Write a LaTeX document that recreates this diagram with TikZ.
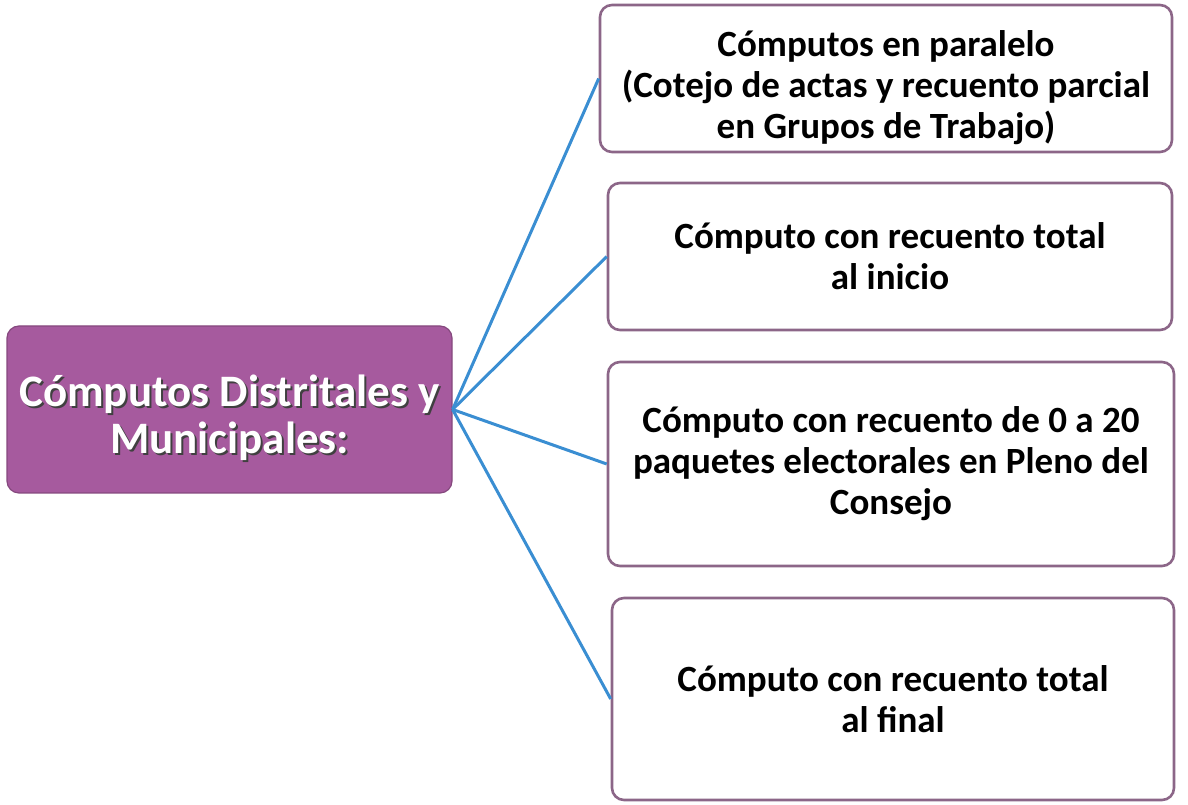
\documentclass[tikz,border=0pt]{standalone}
\usepackage{fontspec}
\setmainfont{Carlito}
\usepackage[dvipsnames]{xcolor}
\definecolor{boxpurple}{HTML}{A65A9E}
\definecolor{boxedge}{HTML}{8C6688}
\definecolor{linkblue}{HTML}{3A8ED2}

\begin{document}
\begin{tikzpicture}[x=1pt,y=1pt,-,thick,
    main node/.style={rounded corners=12pt,draw=boxpurple!80!black,fill=boxpurple,line width=1.2pt,text=white,align=center,font=\fontsize{45}{47}\selectfont\bfseries,minimum width=445pt,minimum height=167pt,inner sep=0pt},
    shadow node/.style={align=center,font=\fontsize{45}{47}\selectfont\bfseries,text=black!75,inner sep=0pt},
    item node/.style={rounded corners=12pt,draw=boxedge,fill=white,line width=2.6pt,text=black,align=center,font=\fontsize{37}{41}\selectfont\bfseries,inner sep=0pt}]
            \useasboundingbox (0,0) rectangle (1188,805);
            \node[main node] (0) at (229.5,395.5) {};
            \node[shadow node] (0s) at (231.5,385.5) {Cómputos Distritales y\\Municipales:};
            \node[shadow node,text=white] (0t) at (229.5,387.5) {Cómputos Distritales y\\Municipales:};
            \node[item node,minimum width=572pt,minimum height=147pt] (1) at (886,726.5) {\rule{0pt}{45pt}Cómputos en paralelo\\(Cotejo de actas y recuento parcial\\en Grupos de Trabajo)};
            \node[item node,minimum width=564pt,minimum height=147pt] (2) at (890,548.5) {Cómputo con recuento total\\al inicio};
            \node[item node,minimum width=566pt,minimum height=204pt] (3) at (891,341) {Cómputo con recuento de 0 a 20\\paquetes electorales en Pleno del\\Consejo};
            \node[item node,minimum width=562pt,minimum height=202pt] (4) at (893,106) {Cómputo con recuento total\\al final};

            \path[draw=linkblue,line width=3pt]
                (0.east) edge (1.west)
                (0.east) edge (2.west)
                (0.east) edge (3.west)
                (0.east) edge (4.west)
            ;
            \end{tikzpicture}
\end{document}
